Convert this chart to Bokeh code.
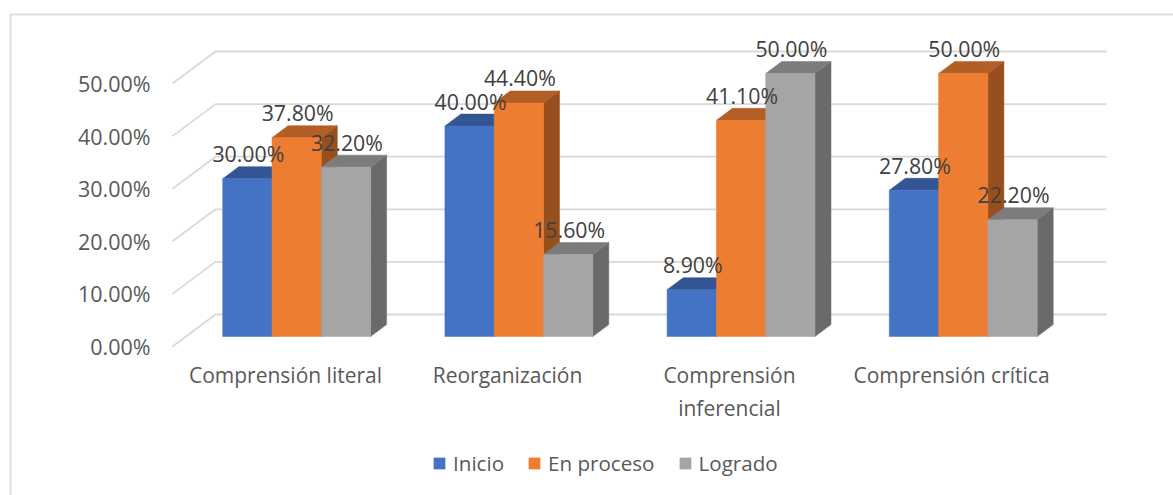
from bokeh.plotting import figure
from bokeh.embed import file_html
from bokeh.resources import INLINE
from bokeh.core.properties import value
from bokeh.models import (Range1d, LinearAxis, FixedTicker, PrintfTickFormatter,
                          Legend, LegendItem)

categories = ["Comprensión literal", "Reorganización", "Comprensión\ninferencial", "Comprensión crítica"]
series_names = ["Inicio", "En proceso", "Logrado"]
inicio = [30.0, 40.0, 8.9, 27.8]
en_proceso = [37.8, 44.4, 41.1, 50.0]
logrado = [32.2, 15.6, 50.0, 22.2]
y_ticks = [0, 10, 20, 30, 40, 50]

front = ["#4472C4", "#ED7D31", "#A5A5A5"]
top_c = ["#335593", "#B25E25", "#7C7C7C"]
side_c = ["#2A4675", "#964F1D", "#6A6A6A"]
FONT = "Open Sans"
FS = "21px"

W, H = 1173, 495
Y0_PAGE = 346.0          # page y of value 0 on the front plane
PX_PER = 5.26            # pixels per percentage point
def yd(page_y):
    return (Y0_PAGE - page_y) / PX_PER

p = figure(width=W, height=H, output_backend="svg", toolbar_location=None,
           x_range=Range1d(0, W),
           y_range=Range1d(yd(H), yd(0)),
           x_axis_location=None, y_axis_location=None,
           min_border=0, min_border_left=0, min_border_right=0,
           min_border_top=0, min_border_bottom=0, outline_line_color=None)
p.grid.visible = False

# chart frame (open towards the right and the bottom, as cropped in the reference)
p.line([10, 10, W], [yd(H), yd(14), yd(14)], line_color="#DEDEDE", line_width=2)

# back wall and floor lines
WALL_L, WALL_R, FRONT_L = 215, 1106, 172
WALL_UP = 32 / PX_PER
GRID = "#D9D9D9"
p.multi_line([[FRONT_L, WALL_L, WALL_R] for _ in y_ticks],
             [[t, t + WALL_UP, t + WALL_UP] for t in y_ticks],
             line_color=GRID, line_width=1.8)

# 3D columns
X0, PERIOD, BW = 222.2, 222.2, 49.3
DX, DY = 16, 12 / PX_PER
FLOOR = 10 / PX_PER
quads = []
for s, vals in enumerate([inicio, en_proceso, logrado]):
    lefts = [X0 + i * PERIOD + s * BW for i in range(len(vals))]
    rights = [l + BW for l in lefts]
    tops = [FLOOR + v for v in vals]
    p.patches([[r, r + DX, r + DX, r] for r in rights],
              [[FLOOR, FLOOR + DY, t + DY, t] for t in tops],
              fill_color=side_c[s], line_color=side_c[s], line_width=0.5)
    p.patches([[l, l + DX, r + DX, r] for l, r in zip(lefts, rights)],
              [[t, t + DY, t + DY, t] for t in tops],
              fill_color=top_c[s], line_color=top_c[s], line_width=0.5)
    quads.append(p.quad(left=lefts, right=rights, bottom=FLOOR, top=tops,
                        fill_color=front[s], line_color=front[s], line_width=0.5))

# data labels
for s, vals in enumerate([inicio, en_proceso, logrado]):
    xs = [X0 + i * PERIOD + (s + 0.5) * BW for i in range(len(vals))]
    p.text(xs, [FLOOR + v for v in vals], text=[f"{v:.2f}%" for v in vals],
           text_align="center", text_baseline="middle", x_offset=1, y_offset=-25,
           text_font=value(FONT), text_font_size="21.3px", text_color="#404040")

# value axis
ay = LinearAxis(fixed_location=FRONT_L, ticker=FixedTicker(ticks=y_ticks),
                formatter=PrintfTickFormatter(format="%.2f%%"),
                axis_line_color=None, major_tick_line_color=None, minor_tick_line_color=None,
                major_label_standoff=16, major_label_text_font=FONT,
                major_label_text_font_size="21.5px", major_label_text_color="#595959")
p.add_layout(ay, "left")

# category axis
cat_x = [285 + i * 222 for i in range(len(categories))]
ax = LinearAxis(fixed_location=yd(354), ticker=FixedTicker(ticks=cat_x),
                major_label_overrides={x: c for x, c in zip(cat_x, categories)},
                axis_line_color=None, major_tick_line_color=None, minor_tick_line_color=None,
                major_label_standoff=0, major_label_text_font=FONT,
                major_label_text_font_size=FS, major_label_text_color="#595959")
p.add_layout(ax, "below")

# legend
legend = Legend(items=[LegendItem(label=n, renderers=[q]) for n, q in zip(series_names, quads)],
                orientation="horizontal", location=(432, 18),
                glyph_width=14, glyph_height=14, label_standoff=7, spacing=23,
                label_text_font=FONT, label_text_font_size="20.6px", label_text_color="#595959",
                border_line_color=None, background_fill_alpha=0, padding=0, margin=0)
p.add_layout(legend, "center")

open("out.html", "w").write(file_html(p, INLINE))
